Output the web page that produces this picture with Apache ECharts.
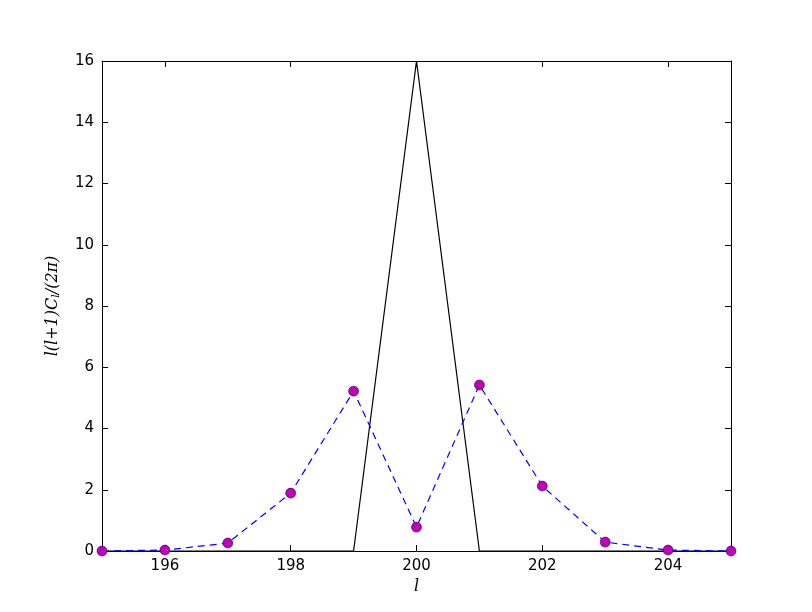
<!DOCTYPE html>
<html>
<head>
<meta charset="utf-8">
<script src="https://cdn.jsdelivr.net/npm/echarts@6/dist/echarts.min.js"></script>
<style>
  html, body { margin: 0; padding: 0; background: #fff; }
  #chart { width: 812px; height: 612px; }
</style>
</head>
<body>
<div id="chart"></div>
<script>
// multipole l
const ells = [195, 196, 197, 198, 199, 200, 201, 202, 203, 204, 205]
// input spectrum (black line)
const inputSpec = [0, 0, 0, 0, 0, 16, 0, 0, 0, 0, 0]
// recovered spectrum (dashed + markers)
const recovered = [0.0, 0.03, 0.26, 1.89, 5.22, 0.78, 5.42, 2.12, 0.29, 0.03, 0.0]
const xTicks = [196, 198, 200, 202, 204]

const font = 'DejaVu Sans'

const chart = echarts.init(document.getElementById('chart'))

const mathStyle = { fontFamily: 'DejaVu Serif', fontStyle: 'italic', fontSize: 16, color: '#000' }

const options = {
  backgroundColor: '#fff',
  animation: false,
  grid: { left: 102, right: 81, top: 61, bottom: 61 },
  xAxis: [
    {
      type: 'value',
      min: 195,
      max: 205,
      name: '{m|l}',
      nameLocation: 'middle',
      nameGap: 24,
      nameTextStyle: { rich: { m: mathStyle } },
      axisLine: { onZero: false, lineStyle: { color: '#000', width: 1 } },
      axisTick: { inside: true, length: 6, customValues: xTicks, lineStyle: { color: '#000' } },
      axisLabel: { customValues: xTicks, color: '#000', fontFamily: font, fontSize: 15, margin: 8 },
      splitLine: { show: false }
    },
    {
      type: 'value',
      position: 'top',
      min: 195,
      max: 205,
      axisLine: { show: true, onZero: false, lineStyle: { color: '#000', width: 1 } },
      axisTick: { show: true, inside: true, length: 6, customValues: xTicks, lineStyle: { color: '#000' } },
      axisLabel: { show: false },
      splitLine: { show: false }
    }
  ],
  yAxis: [
    {
      type: 'value',
      min: 0,
      max: 16,
      interval: 2,
      name: '{m|l(l+1)C}{s|l}{m|/(2π)}',
      nameLocation: 'middle',
      nameGap: 40,
      nameRotate: 90,
      nameTextStyle: {
        rich: {
          m: mathStyle,
          s: { fontFamily: 'DejaVu Serif', fontStyle: 'italic', fontSize: 11, color: '#000', padding: [8, 0, 0, 0] }
        }
      },
      axisLine: { onZero: false, lineStyle: { color: '#000', width: 1 } },
      axisTick: { inside: true, length: 6, lineStyle: { color: '#000' } },
      axisLabel: { color: '#000', fontFamily: font, fontSize: 15, margin: 8 },
      splitLine: { show: false }
    },
    {
      type: 'value',
      position: 'right',
      min: 0,
      max: 16,
      interval: 2,
      axisLine: { show: true, onZero: false, lineStyle: { color: '#000', width: 1 } },
      axisTick: { show: true, inside: true, length: 6, lineStyle: { color: '#000' } },
      axisLabel: { show: false },
      splitLine: { show: false }
    }
  ],
  series: [
    {
      name: 'input',
      type: 'line',
      data: ells.map((l, i) => [l, inputSpec[i]]),
      showSymbol: false,
      lineStyle: { color: '#000', width: 1.2 },
      z: 2
    },
    {
      name: 'recovered',
      type: 'line',
      data: ells.map((l, i) => [l, recovered[i]]),
      symbol: 'circle',
      symbolSize: 10,
      showAllSymbol: true,
      lineStyle: { color: '#0000ff', width: 1.2, type: [7, 5] },
      itemStyle: { color: '#bf00bf', borderColor: '#000', borderWidth: 0.5 },
      z: 3
    }
  ]
}

chart.setOption(options)
</script>
</body>
</html>
